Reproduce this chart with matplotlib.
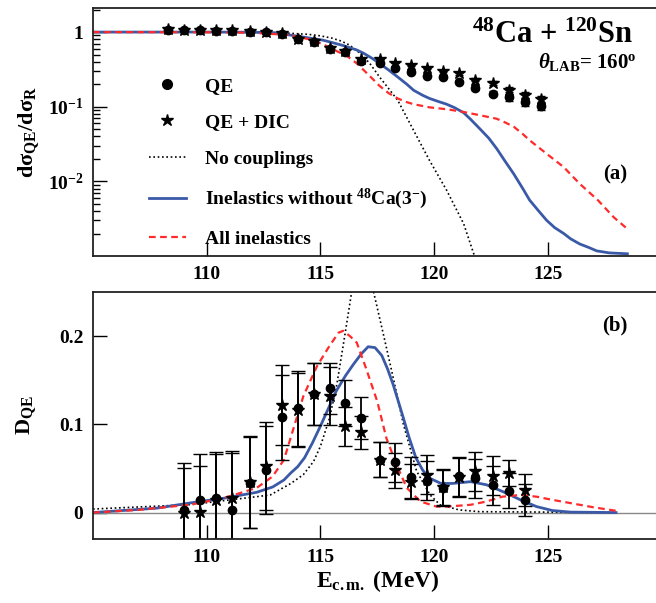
import numpy as np
from matplotlib import pyplot as plt
from matplotlib.lines import Line2D
from matplotlib.ticker import FixedLocator, LogLocator, NullLocator, NullFormatter

plt.rcParams['font.family'] = ['Liberation Serif', 'DejaVu Serif']
plt.rcParams['font.weight'] = 'bold'
plt.rcParams['mathtext.fontset'] = 'custom'
plt.rcParams['mathtext.rm'] = 'Liberation Serif:bold'
plt.rcParams['mathtext.bf'] = 'Liberation Serif:bold'
plt.rcParams['mathtext.it'] = 'Liberation Serif:italic:bold'

# ---- data ----
# panel (a): quasi-elastic ratio
e_top = [108.3, 109.0, 109.7, 110.4, 111.1, 111.9, 112.6, 113.3, 114.0, 114.7,
         115.4, 116.1, 116.8, 117.6, 118.3, 119.0, 119.7, 120.4, 121.1, 121.8,
         122.6, 123.3, 124.0, 124.7]
qe_top = [1.07, 1.06, 1.06, 1.04, 1.04, 1.01, 0.99, 0.94, 0.80, 0.74,
          0.60, 0.54, 0.41, 0.38, 0.33, 0.29, 0.26, 0.25, 0.215, 0.18,
          0.15, 0.133, 0.116, 0.102]
qe_top_err = [0.01, 0.01, 0.01, 0.01, 0.01, 0.01, 0.01, 0.01, 0.01, 0.01,
              0.01, 0.01, 0.01, 0.01, 0.01, 0.01, 0.01, 0.01, 0.01, 0.01,
              0.012, 0.012, 0.013, 0.013]
dic_top = [1.09, 1.08, 1.08, 1.06, 1.06, 1.03, 1.01, 0.96, 0.82, 0.77,
           0.61, 0.56, 0.44, 0.43, 0.39, 0.36, 0.33, 0.30, 0.28, 0.23,
           0.21, 0.17, 0.143, 0.125]
dic_top_err = [0.01, 0.01, 0.01, 0.01, 0.01, 0.01, 0.01, 0.01, 0.01, 0.01,
               0.01, 0.01, 0.01, 0.01, 0.01, 0.01, 0.01, 0.01, 0.01, 0.01,
               0.012, 0.012, 0.013, 0.013]

nocoup_e = [105.0, 110.0, 112.0, 113.5, 114.5, 115.0, 115.5, 115.9, 116.2, 116.5,
            116.9, 117.2, 117.6, 118.0, 118.4, 119.1, 119.8, 120.55, 121.3, 121.8]
nocoup_v = [1.0, 1.0, 0.995, 0.97, 0.93, 0.89, 0.83, 0.76, 0.69, 0.60,
            0.47, 0.37, 0.25, 0.175, 0.122, 0.048, 0.019, 0.0076, 0.0027, 0.00095]

inel_e = [105.0, 110.0, 112.0, 113.0, 114.0, 115.1, 115.4, 116.0, 116.6, 116.9,
          117.3, 117.6, 118.0, 118.4, 118.8, 119.1, 119.5, 119.8, 120.2, 120.55,
          120.9, 121.3, 121.6, 122.0, 122.4, 122.75, 123.1, 123.5, 123.9, 124.2,
          124.6, 124.95, 125.3, 125.7, 126.0, 126.4, 126.8, 127.15, 127.7, 128.5]
inel_v = [1.0, 1.0, 0.995, 0.98, 0.88, 0.78, 0.74, 0.66, 0.575, 0.52,
          0.44, 0.38, 0.31, 0.25, 0.20, 0.166, 0.142, 0.129, 0.117, 0.108,
          0.097, 0.083, 0.068, 0.051, 0.038, 0.0275, 0.019, 0.0126, 0.0080, 0.0056,
          0.0040, 0.0030, 0.0024, 0.0020, 0.0017, 0.00145, 0.0013, 0.00117, 0.0011, 0.00107]

all_e = [105.0, 110.0, 112.0, 113.7, 114.5, 115.1, 115.4, 115.8, 116.2, 116.6,
         116.9, 117.3, 117.6, 118.0, 118.4, 118.8, 119.1, 119.8, 120.55, 121.3,
         122.0, 122.75, 123.1, 123.5, 123.9, 124.2, 124.95, 125.7, 126.4, 127.2,
         127.9, 128.5]
all_v = [1.0, 0.995, 0.98, 0.91, 0.80, 0.69, 0.62, 0.54, 0.47, 0.38,
         0.31, 0.235, 0.19, 0.152, 0.129, 0.115, 0.108, 0.098, 0.0925, 0.085,
         0.077, 0.069, 0.062, 0.054, 0.043, 0.0355, 0.0234, 0.0155, 0.0093, 0.0056,
         0.0033, 0.0023]

# panel (b): barrier distributions
e_bot = [109.0, 109.7, 110.4, 111.1, 111.9, 112.6, 113.3, 114.0, 114.7, 115.4,
         116.1, 116.8, 117.6, 118.3, 119.0, 119.7, 120.4, 121.1, 121.8, 122.6,
         123.3, 124.0]
d_qe = [0.003, 0.014, 0.017, 0.003, 0.034, 0.048, 0.108, 0.118, 0.134, 0.141,
        0.124, 0.107, 0.060, 0.057, 0.040, 0.036, 0.028, 0.041, 0.039, 0.031,
        0.025, 0.014]
d_qe_err = [0.053, 0.052, 0.052, 0.067, 0.052, 0.050, 0.048, 0.042, 0.035, 0.029,
            0.026, 0.024, 0.020, 0.022, 0.023, 0.022, 0.020, 0.022, 0.022, 0.022,
            0.020, 0.018]
d_dic = [-0.001, 0.001, 0.014, 0.017, 0.035, 0.053, 0.122, 0.116, 0.134, 0.132,
         0.098, 0.091, 0.060, 0.048, 0.035, 0.043, 0.029, 0.040, 0.047, 0.042,
         0.045, 0.026]
d_dic_err = [0.052, 0.052, 0.052, 0.050, 0.052, 0.050, 0.045, 0.042, 0.035, 0.033,
             0.022, 0.019, 0.020, 0.020, 0.020, 0.022, 0.020, 0.022, 0.022, 0.022,
             0.015, 0.018]

d_nocoup_e = [105.0, 109.3, 112.2, 112.8, 113.7, 114.25, 114.7, 115.0, 115.4, 115.72,
              116.08, 116.38, 116.85, 117.33, 117.77, 118.2, 118.65, 119.23, 119.82, 120.26,
              121.1, 122.0, 128.0]
d_nocoup_v = [0.004, 0.009, 0.018, 0.020, 0.033, 0.043, 0.058, 0.075, 0.107, 0.145,
              0.202, 0.251, 0.32, 0.251, 0.202, 0.153, 0.100, 0.047, 0.020, 0.0088,
              0.003, 0.001, 0.0]

d_inel_e = [105.0, 107.8, 109.3, 110.7, 112.2, 112.9, 113.4, 113.7, 114.0, 114.3,
            114.65, 115.0, 115.35, 115.7, 116.1, 116.45, 116.8, 117.1, 117.4, 117.7,
            117.95, 118.2, 118.45, 118.65, 118.9, 119.2, 119.5, 119.8, 120.3, 120.8,
            121.6, 122.3, 123.0, 123.8, 124.5, 125.2, 126.0, 128.0]
d_inel_v = [0.0, 0.005, 0.011, 0.016, 0.023, 0.029, 0.037, 0.045, 0.052, 0.062,
            0.079, 0.098, 0.118, 0.138, 0.155, 0.168, 0.180, 0.188, 0.187, 0.178,
            0.163, 0.145, 0.124, 0.107, 0.085, 0.062, 0.048, 0.039, 0.033, 0.033,
            0.035, 0.0315, 0.024, 0.0144, 0.0068, 0.0023, 0.0005, 0.0]

d_all_e = [105.0, 107.0, 109.3, 110.7, 112.2, 112.9, 113.4, 113.8, 114.25, 114.85,
           115.4, 115.8, 116.0, 116.3, 116.6, 117.0, 117.5, 117.9, 118.35, 118.8,
           119.4, 120.1, 120.6, 121.6, 122.3, 123.0, 123.8, 124.5, 125.2, 126.0,
           127.0, 128.0]
d_all_v = [0.0, 0.003, 0.009, 0.016, 0.028, 0.041, 0.060, 0.094, 0.132, 0.166,
           0.189, 0.204, 0.206, 0.200, 0.1925, 0.164, 0.126, 0.0845, 0.054, 0.028,
           0.0125, 0.0068, 0.0068, 0.0088, 0.0125, 0.018, 0.020, 0.018, 0.0144, 0.0107,
           0.006, 0.002]

blue = '#3a5aa8'
red = '#ff2a2a'
dash = (0, (3.0, 2.0))
dots = (0, (1.0, 1.6))

fig = plt.figure(figsize=(6.56, 6.03), dpi=100)
ax1 = fig.add_axes([0.1418, 0.5755, 0.8666, 0.4112])
ax2 = fig.add_axes([0.1418, 0.1061, 0.8666, 0.4096])

# ---- panel (a) ----
ax1.plot(nocoup_e, nocoup_v, color='black', lw=1.2, ls=dots)
ax1.plot(inel_e, inel_v, color=blue, lw=2.0)
ax1.plot(all_e, all_v, color=red, lw=1.6, ls=dash)
ax1.errorbar(e_top, qe_top, yerr=qe_top_err, fmt='o', color='black', ms=6,
             elinewidth=1.3, capsize=3)
ax1.errorbar(e_top, dic_top, yerr=dic_top_err, fmt='*', color='black', ms=9,
             elinewidth=1.3, capsize=3)
ax1.set_yscale('log')
ax1.set_xlim(105, 130)
ax1.set_ylim(1e-3, 2.1)
ax1.yaxis.set_major_locator(FixedLocator([1e-2, 1e-1, 1.0]))
ax1.set_yticklabels([r'$10^{-2}$', r'$10^{-1}$', '1'])
ax1.yaxis.set_minor_locator(LogLocator(base=10, subs=np.arange(2, 10) * 1.0))
ax1.yaxis.set_minor_formatter(NullFormatter())
ax1.set_ylabel(r'$\mathrm{dσ_{QE}/dσ_{R}}$', fontsize=16, labelpad=4)

ax1.text(0.95, 0.859, r'$^{48}$Ca + $^{120}$Sn', transform=ax1.transAxes,
         ha='right', va='baseline', fontsize=22, fontweight='bold')
ax1.text(0.957, 0.758, r'$\mathit{θ}_{\mathrm{LAB}}$= 160$^{\mathrm{o}}$', transform=ax1.transAxes,
         ha='right', va='baseline', fontsize=15, fontweight='bold')
ax1.text(0.918, 0.327, '(a)', transform=ax1.transAxes, ha='center', va='center',
         fontsize=15, fontweight='bold')

handles = [Line2D([], [], ls='none', marker='o', color='black', ms=7),
           Line2D([], [], ls='none', marker='*', color='black', ms=9),
           Line2D([], [], color='black', lw=1.2, ls=dots),
           Line2D([], [], color=blue, lw=2.0),
           Line2D([], [], color=red, lw=1.6, ls=dash)]
labels = ['QE', 'QE + DIC', 'No couplings', r'Inelastics without $^{48}$Ca(3$^{-}$)',
          'All inelastics']
ax1.legend(handles, labels, loc='upper left', bbox_to_anchor=(0.0985, 0.722),
           frameon=False, prop={'size': 14, 'weight': 'bold'}, handlelength=1.9,
           handletextpad=1.0, labelspacing=0.98, borderpad=0, borderaxespad=0,
           numpoints=1)

# ---- panel (b) ----
ax2.axhline(0, color='#888888', lw=1.0)
ax2.plot(d_nocoup_e, d_nocoup_v, color='black', lw=1.2, ls=dots)
ax2.plot(d_inel_e, d_inel_v, color=blue, lw=2.0)
ax2.plot(d_all_e, d_all_v, color=red, lw=1.6, ls=dash)
ax2.errorbar(e_bot, d_qe, yerr=d_qe_err, fmt='o', color='black', ms=6,
             elinewidth=1.3, capsize=5)
ax2.errorbar(e_bot, d_dic, yerr=d_dic_err, fmt='*', color='black', ms=9,
             elinewidth=1.3, capsize=5)
ax2.set_xlim(105, 130)
ax2.set_ylim(-0.03, 0.25)
ax2.yaxis.set_major_locator(FixedLocator([0, 0.1, 0.2]))
ax2.set_yticklabels(['0', '0.1', '0.2'])
ax2.yaxis.set_minor_locator(NullLocator())
ax2.set_ylabel(r'$\mathrm{D_{QE}}$', fontsize=16, labelpad=14)
ax2.set_xlabel(r'$\mathrm{E_{c.m.}}$ (MeV)', fontsize=17, fontweight='bold', labelpad=2)
ax2.text(0.918, 0.866, '(b)', transform=ax2.transAxes, ha='center', va='center',
         fontsize=15, fontweight='bold')

for ax in (ax1, ax2):
    ax.xaxis.set_major_locator(FixedLocator([110, 115, 120, 125]))
    ax.xaxis.set_minor_locator(NullLocator())
    ax.tick_params(axis='both', which='major', direction='in', length=10, width=1.0,
                   labelsize=14, top=False, right=False, pad=7)
    ax.tick_params(axis='y', which='minor', direction='in', length=5, width=1.0)
    for side in ('left', 'bottom', 'top', 'right'):
        ax.spines[side].set_linewidth(1.3)
        ax.spines[side].set_color('#222222')
    for lab in ax.get_xticklabels() + ax.get_yticklabels():
        lab.set_fontweight('bold')

fig.savefig('out.png', dpi=100)
